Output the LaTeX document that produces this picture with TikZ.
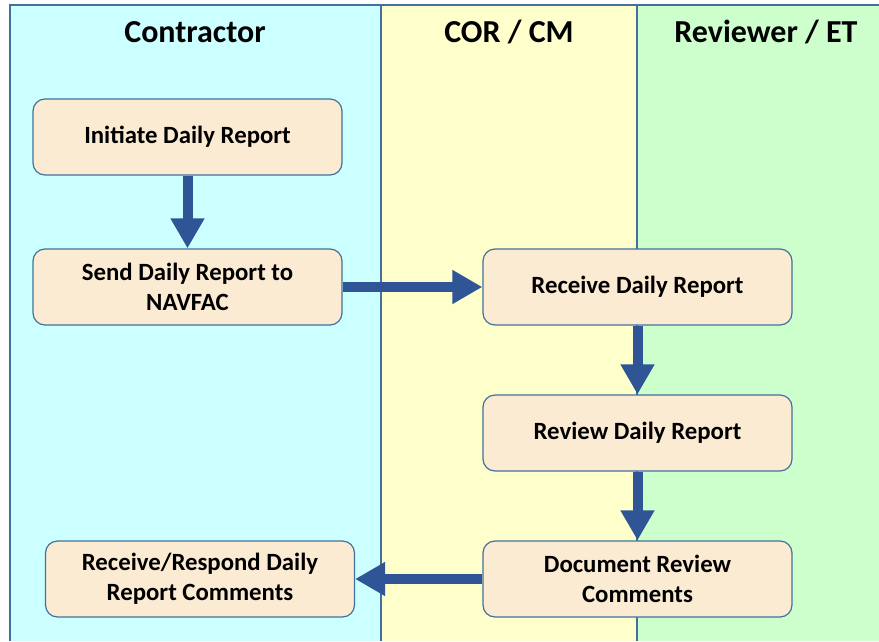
\documentclass[tikz,border=0pt]{standalone}
\usepackage{fontspec}
\setmainfont{Carlito}
\usetikzlibrary{arrows.meta}

\definecolor{lanecyan}{HTML}{CCFFFF}
\definecolor{laneyellow}{HTML}{FFFFCC}
\definecolor{lanegreen}{HTML}{CCFFCC}
\definecolor{laneline}{HTML}{41719C}
\definecolor{boxfill}{HTML}{FCEBD3}
\definecolor{flowblue}{HTML}{2F5597}

\begin{document}
\begin{tikzpicture}[x=1pt, y=-1pt, font=\bfseries,
    stepbox/.style = {draw = laneline, line width = 1.2pt, fill = boxfill,
        rounded corners = 12pt, minimum width = 309pt, minimum height = 76pt,
        align = center, font = \fontsize{24.8}{30}\selectfont\bfseries},
    lanehead/.style = {font = \fontsize{32}{38}\selectfont\bfseries},
    flow/.style = {draw = flowblue, line width = 10pt,
        -{Triangle[width = 32pt, length = 30pt]}}]
        \useasboundingbox (0,0) rectangle (879,641);

        % swim lanes
        \fill [lanecyan] (10,5) rectangle (381,641);
        \fill [laneyellow] (381,5) rectangle (637,641);
        \fill [lanegreen] (637,5) rectangle (879,641);
        \draw [laneline, line width = 1.2pt] (10,641) -- (10,5) -- (879,5);
        \draw [laneline, line width = 1.2pt] (381,5) -- (381,641);
        \draw [laneline, line width = 1.2pt] (637,5) -- (637,641);

        \node [lanehead] (contractor) at (195,32) {Contractor};
        \node [lanehead] (corcm) at (509,32) {COR / CM};
        \node [lanehead] (reviewer) at (766,32) {Reviewer / ET};

        % steps
        \node [stepbox] (initiate) at (187.5,137) {Initiate Daily Report};
        \node [stepbox] (send) at (187.5,287) {Send Daily Report to\\NAVFAC};
        \node [stepbox] (receive) at (637.5,287) {Receive Daily Report};
        \node [stepbox] (review) at (637.5,433) {Review Daily Report};
        \node [stepbox] (document) at (637.5,579) {Document Review\\Comments};
        \node [stepbox] (respond) at (200,579) {Receive/Respond Daily\\Report Comments};

        % flow
        \draw [flow] (initiate) -- (send);
        \draw [flow] (send) -- (receive);
        \draw [flow] (receive) -- (review);
        \draw [flow] (review) -- (document);
        \draw [flow] (document) -- (respond);
    \end{tikzpicture}
\end{document}
